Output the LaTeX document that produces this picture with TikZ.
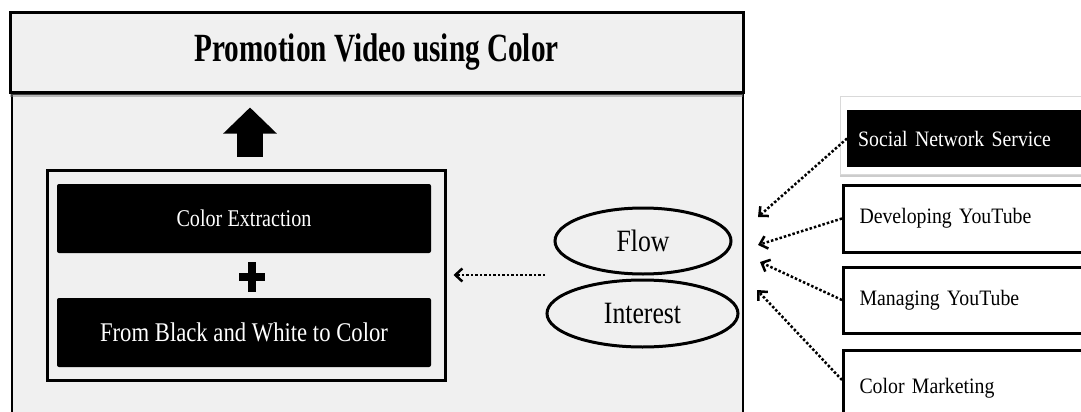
\documentclass[tikz,border=0pt]{standalone}
\usepackage{fontspec}
\setmainfont{Liberation Serif}
\newfontfamily\titlefont[FakeStretch=0.73]{Liberation Serif}
\newfontfamily\boxfont[FakeStretch=0.84]{Liberation Serif}
\newfontfamily\ovalfont[FakeStretch=0.83]{Liberation Serif}
\newfontfamily\sidefont[FakeStretch=0.9]{Liberation Serif}
\usetikzlibrary{arrows.meta,shapes.geometric,shadows}
\definecolor{panel}{gray}{0.94}

\begin{document}
\begin{tikzpicture}[x=1pt,y=-1pt,
  frame/.style={draw=black, line width=3pt},
  blackbox/.style={fill=black, rounded corners=2pt, text=white, minimum width=374pt, minimum height=69pt},
  oval/.style={ellipse, draw=black, line width=3pt, fill=panel, font=\ovalfont\fontsize{31}{36}\selectfont},
  sidebox/.style={draw=black, line width=3pt, fill=white, anchor=west, align=left, text width=250pt, inner xsep=16pt, font=\sidefont\fontsize{22}{26}\selectfont},
  dotarrow/.style={line width=2.5pt, dash pattern=on 2.5pt off 2pt, -{Straight Barb[length=7pt,width=13pt,line width=2.5pt]}},
  fatarrow/.style={line width=26pt, -{Triangle[length=26pt,width=52pt]}}]
\path[use as bounding box, clip] (0,0) rectangle (1081,412);

%panel
\draw[line width=2pt, fill=panel] (12,94) rectangle (743,430);
\node[frame, fill=panel, minimum width=733pt, minimum height=79pt,
  drop shadow={shadow xshift=0pt, shadow yshift=-5pt, opacity=.5},
  font=\titlefont\bfseries\fontsize{40}{44}\selectfont] (title) at (376.5,52.5) {Promotion Video using Color};

%inner box
\node[frame, fill=panel, minimum width=398pt, minimum height=210pt] (inner) at (246,275) {};
\node[blackbox, font=\boxfont\fontsize{24}{28}\selectfont] (extract) at (244,218.5) {Color Extraction};
\node[blackbox, font=\boxfont\fontsize{27}{32}\selectfont] (bw) at (244,332.5) {From Black and White to Color};
\fill (247.5,262) rectangle (255.5,292);
\fill (238.5,273) rectangle (264.5,281);
\draw[fatarrow] ([xshift=4pt,yshift=12pt]inner.north) -- ++(0,-49);

%flow and interest
\node[oval, minimum width=176pt, minimum height=66pt] (flow) at (643,241) {Flow};
\node[oval, minimum width=191pt, minimum height=67pt] (interest) at (642.5,313.5) {Interest};
\coordinate (src) at (545,275);
\draw[dotarrow] (src) -- ([xshift=7pt]inner.east);

%side boxes
\fill[white, draw=gray!30, drop shadow={shadow xshift=0pt, shadow yshift=-3pt, opacity=.4}] (840,96) rectangle (1100,174);
\node[fill=black, text=white, anchor=west, align=left, text width=250pt, inner xsep=11pt,
  minimum height=57pt, font=\sidefont\fontsize{22}{26}\selectfont] (sns) at (847,138.5) {Social Network Service};
\node[sidebox, minimum height=67pt] (dev) at (842,218.5) {Developing YouTube};
\node[sidebox, minimum height=66pt] (man) at (842,300) {Managing YouTube};
\node[sidebox, minimum height=76pt] (cm) at (842,388) {Color Marketing};

%dotted arrows
\coordinate (t1) at (758,217);
\coordinate (t2) at (758,245);
\coordinate (t3) at (760,262);
\coordinate (t4) at (757,290);
\draw[dotarrow] (sns.west) -- (t1);
\draw[dotarrow] (dev.west) -- (t2);
\draw[dotarrow] (man.west) -- (t3);
\draw[dotarrow] ([yshift=8pt]cm.west) -- (t4);
\end{tikzpicture}
\end{document}
